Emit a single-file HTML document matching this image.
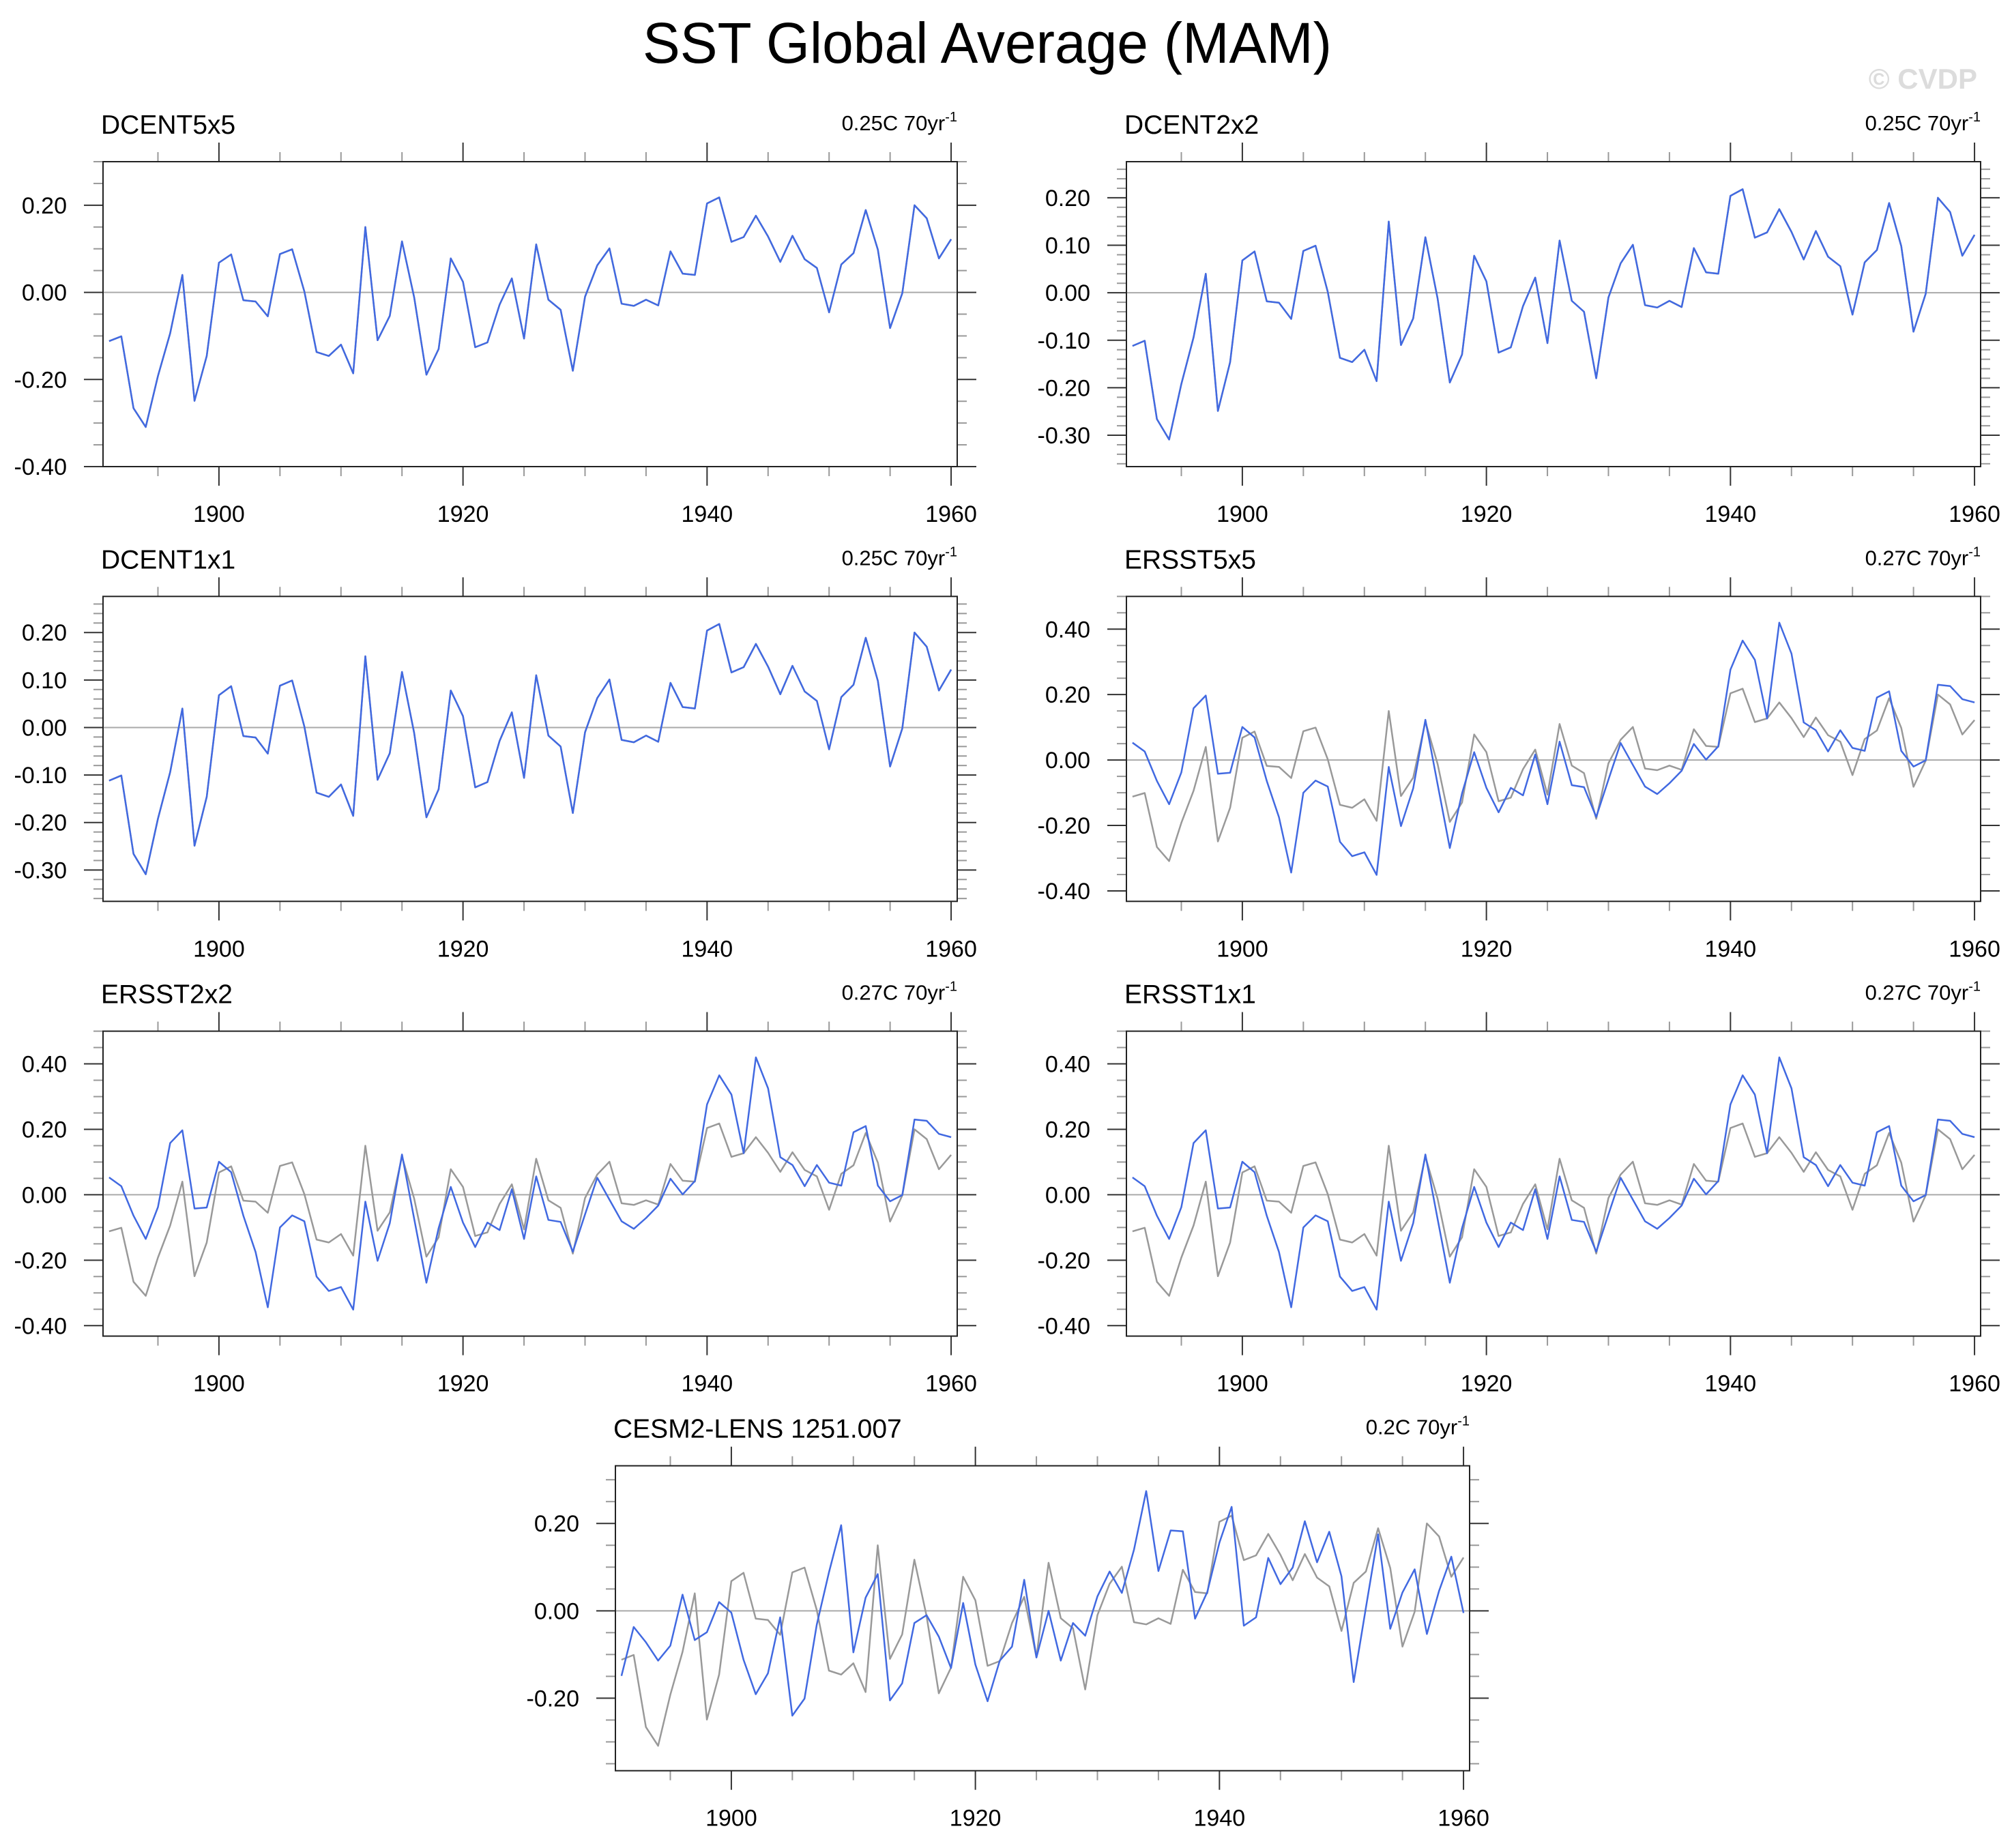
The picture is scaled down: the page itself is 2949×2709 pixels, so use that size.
<!DOCTYPE html>
<html>
<head>
<meta charset="utf-8">
<style>
html,body{margin:0;padding:0;background:#fff;}
svg{display:block;font-family:"Liberation Sans",Arial,sans-serif;}
</style>
</head>
<body>
<svg id="fig" width="2949" height="2709" viewBox="0 0 2949 2709" xmlns="http://www.w3.org/2000/svg">
<rect x="0" y="0" width="2949" height="2709" fill="#fff"/>
<text x="1447" y="92" font-size="84" text-anchor="middle" textLength="1010" lengthAdjust="spacingAndGlyphs" fill="#000">SST Global Average (MAM)</text>
<text x="2898" y="130" font-size="42" font-weight="bold" text-anchor="end" fill="#dcdcdc">© CVDP</text>
<g id="panels"></g>
</svg>
<script>
// ---- data (1891..1960) ----
const years = [];
for (let y = 1891; y <= 1960; y++) years.push(y);

const dcentValues = [
-0.112,-0.101,-0.266,-0.309,-0.192,-0.094,0.040,-0.249,-0.146,0.068,
0.087,-0.018,-0.021,-0.055,0.088,0.099,0.002,-0.137,-0.146,-0.120,
-0.186,0.150,-0.110,-0.054,0.117,-0.012,-0.189,-0.130,0.078,0.024,
-0.126,-0.115,-0.028,0.032,-0.106,0.110,-0.017,-0.040,-0.180,-0.010,
0.062,0.101,-0.026,-0.031,-0.017,-0.030,0.094,0.043,0.040,0.204,
0.218,0.116,0.127,0.176,0.128,0.070,0.130,0.076,0.056,-0.046,
0.064,0.090,0.189,0.098,-0.082,-0.002,0.200,0.170,0.078,0.122];

const ersstValues = [
0.053,0.026,-0.064,-0.135,-0.038,0.158,0.197,-0.042,-0.039,0.101,
0.069,-0.064,-0.175,-0.344,-0.100,-0.063,-0.081,-0.250,-0.294,-0.282,
-0.351,-0.021,-0.202,-0.087,0.123,-0.074,-0.269,-0.102,0.024,-0.085,
-0.160,-0.085,-0.108,0.017,-0.135,0.056,-0.077,-0.083,-0.174,-0.060,
0.052,-0.015,-0.081,-0.104,-0.071,-0.033,0.049,0.001,0.042,0.276,
0.365,0.306,0.127,0.420,0.325,0.115,0.091,0.026,0.091,0.037,
0.028,0.191,0.210,0.028,-0.020,-0.001,0.230,0.226,0.186,0.176];

const cesmValues = [
-0.149,-0.037,-0.072,-0.114,-0.080,0.037,-0.067,-0.049,0.020,-0.004,
-0.112,-0.191,-0.143,-0.015,-0.240,-0.201,-0.032,0.088,0.196,-0.095,
0.030,0.084,-0.205,-0.166,-0.028,-0.010,-0.059,-0.131,0.018,-0.123,
-0.207,-0.114,-0.082,0.071,-0.107,0.000,-0.114,-0.028,-0.057,0.033,
0.090,0.041,0.140,0.274,0.091,0.184,0.182,-0.018,0.043,0.156,
0.238,-0.034,-0.015,0.121,0.061,0.099,0.205,0.111,0.181,0.079,
-0.163,0.007,0.175,-0.041,0.042,0.095,-0.053,0.046,0.124,-0.005];

const xTickLabels = [1900, 1920, 1940, 1960];
const panelTitles = ["DCENT5x5","DCENT2x2","DCENT1x1","ERSST5x5","ERSST2x2","ERSST1x1","CESM2-LENS 1251.007"];
const trendLabels = ["0.25C 70yr","0.25C 70yr","0.25C 70yr","0.27C 70yr","0.27C 70yr","0.27C 70yr","0.2C 70yr"];

// ---- layout ----
const NS = "http://www.w3.org/2000/svg";
const W = 1252, H = 447;
const XMIN = 1890.5, XMAX = 1960.5;
const BLUE = "#4169E1", GRAY = "#999999";

const panels = [
 {x:151, y:237,    ymin:-0.40, ymax:0.30, major:0.2, minor:0.05, dec:2, blue:dcentValues, gray:dcentValues},
 {x:1651,y:237,    ymin:-0.366,ymax:0.276,major:0.1, minor:0.02, dec:2, blue:dcentValues, gray:dcentValues},
 {x:151, y:874.3,  ymin:-0.366,ymax:0.276,major:0.1, minor:0.02, dec:2, blue:dcentValues, gray:dcentValues},
 {x:1651,y:874.3,  ymin:-0.432,ymax:0.50, major:0.2, minor:0.05, dec:2, blue:ersstValues, gray:dcentValues},
 {x:151, y:1511.6, ymin:-0.432,ymax:0.50, major:0.2, minor:0.05, dec:2, blue:ersstValues, gray:dcentValues},
 {x:1651,y:1511.6, ymin:-0.432,ymax:0.50, major:0.2, minor:0.05, dec:2, blue:ersstValues, gray:dcentValues},
 {x:902, y:2148.7, ymin:-0.366,ymax:0.332,major:0.2, minor:0.05, dec:2, blue:cesmValues,  gray:dcentValues}
];

function mk(tag, attrs, parent){
  const e = document.createElementNS(NS, tag);
  for (const k in attrs) e.setAttribute(k, attrs[k]);
  parent.appendChild(e);
  return e;
}

const root = document.getElementById("panels");

panels.forEach((p, i) => {
  const g = mk("g", {}, root);
  
  
  const sx = v => p.x + (v - XMIN) / (XMAX - XMIN) * W;
  const sy = v => p.y + (p.ymax - v) / (p.ymax - p.ymin) * H;

  // titles
  const t = mk("text", {x:p.x - 3, y:p.y - 41, "font-size":39, fill:"#000"}, g);
  t.textContent = panelTitles[i];
  
  
  const r = mk("text", {x:p.x + W, y:p.y - 46, "font-size":31, "text-anchor":"end", fill:"#000"}, g);
  
  
  r.appendChild(document.createTextNode(trendLabels[i]));
  const sup = mk("tspan", {"font-size":20, dy:-13}, r);
  sup.textContent = "-1";

  // zero line
  const z = mk("line", {x1:p.x, x2:p.x+W, y1:sy(0), y2:sy(0), stroke:"#aaaaaa", "stroke-width":2}, g);
  
  

  // y ticks
  const eps = 1e-6;
  const mStart = Math.ceil((p.ymin - eps) / p.minor);
  const mEnd = Math.floor((p.ymax + eps) / p.minor);
  for (let k = mStart; k <= mEnd; k++) {
    const v = k * p.minor;
    const isMajor = Math.abs(v / p.major - Math.round(v / p.major)) < 1e-4;
    const yy = sy(v);
    const len = isMajor ? 28 : 14;
    const col = isMajor ? "#333" : "#999";
    const tl = mk("line", {x1:p.x - len, x2:p.x, y1:yy, y2:yy, stroke:col, "stroke-width":2}, g);
    
    
    const tr = mk("line", {x1:p.x + W, x2:p.x + W + len, y1:yy, y2:yy, stroke:col, "stroke-width":2}, g);
    
    
    if (isMajor) {
      const lab = mk("text", {x:p.x - 53, y:yy + 12, "font-size":34, "text-anchor":"end", fill:"#000"}, g);
      lab.textContent = (Math.abs(v) < 1e-9 ? 0 : v).toFixed(p.dec);
      
      
    }
  }

  // x ticks
  for (let yr = 1895; yr <= 1960; yr += 5) {
    const isMajor = yr % 20 === 0;
    const xx = sx(yr);
    const len = isMajor ? 28 : 14;
    const col = isMajor ? "#333" : "#999";
    const tt = mk("line", {x1:xx, x2:xx, y1:p.y - len, y2:p.y, stroke:col, "stroke-width":2}, g);
    
    
    const tb = mk("line", {x1:xx, x2:xx, y1:p.y + H, y2:p.y + H + len, stroke:col, "stroke-width":2}, g);
    
    
  }
  xTickLabels.forEach(yr => {
    const lab = mk("text", {x:sx(yr), y:p.y + H + 81, "font-size":34, "text-anchor":"middle", fill:"#000"}, g);
    lab.textContent = String(yr);
    
    
  });

  // series
  const path = vals => vals.map((v, j) => (j ? "L" : "M") + sx(years[j]).toFixed(1) + "," + sy(v).toFixed(1)).join("");
  const gl = mk("path", {d:path(p.gray), fill:"none", stroke:GRAY, "stroke-width":2.5, "stroke-linejoin":"round"}, g);
  
  
  const bl = mk("path", {d:path(p.blue), fill:"none", stroke:BLUE, "stroke-width":2.5, "stroke-linejoin":"round"}, g);
  
  

  // frame
  const fr = mk("rect", {x:p.x, y:p.y, width:W, height:H, fill:"none", stroke:"#222", "stroke-width":2}, g);
  
  
});
</script>
</body>
</html>
